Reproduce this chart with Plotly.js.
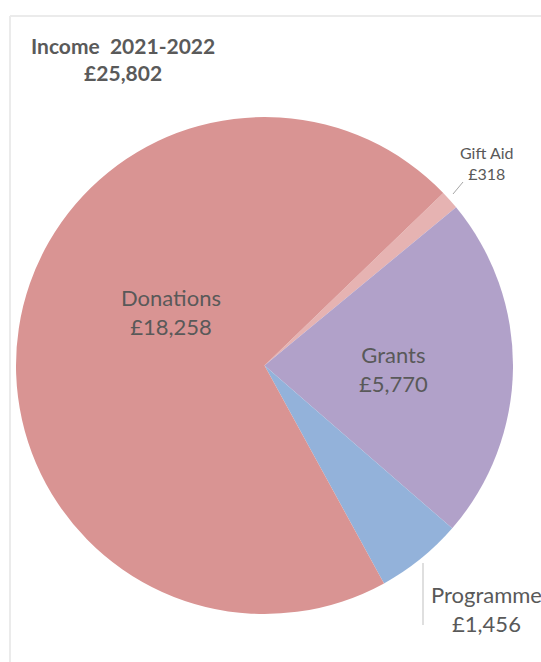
<!DOCTYPE html>
<html>
<head>
<meta charset="utf-8">
<script src="https://cdn.plot.ly/plotly-3.0.1.min.js"></script>
<style>html,body{margin:0;padding:0;background:#fff;}#chart{width:541px;height:662px;}</style>
</head>
<body>
<div id="chart"></div>
<script>
const categories = ["Gift Aid", "Grants", "Programme", "Donations"];
const values = [318, 5770, 1456, 18258];
const colors = ["#E6B3B2", "#B1A1C9", "#93B2DA", "#D99493"];
const titleLine1 = "Income  2021-2022";
const total = values.reduce((a, b) => a + b, 0);

const W = 541, H = 662;
const px = x => x / W;
const py = y => 1 - y / H;
const fmt = v => "£" + v.toLocaleString("en-GB");

// label positions (pixel centres) and sizes
const labelPos = {
  "Gift Aid": {x: 487, y: 163, size: 16},
  "Grants": {x: 393, y: 369, size: 22},
  "Programme": {x: 486, y: 609, size: 22},
  "Donations": {x: 171, y: 312, size: 22}
};

const annotations = categories.map((c, i) => ({
  xref: "paper", yref: "paper",
  x: px(labelPos[c].x), y: py(labelPos[c].y),
  xanchor: "center", yanchor: "middle",
  text: c + "<br>" + fmt(values[i]),
  showarrow: false,
  font: {family: "Lato, 'Open Sans', sans-serif", size: labelPos[c].size, color: "#595959"}
}));

annotations.push({
  xref: "paper", yref: "paper",
  x: px(123), y: py(59), xanchor: "center", yanchor: "middle",
  text: "<b>" + titleLine1 + "</b><br><b>" + fmt(total) + "</b>",
  showarrow: false,
  font: {family: "Lato, 'Open Sans', sans-serif", size: 21, color: "#5a5a5a"}
});

const data = [{
  type: "pie",
  labels: categories,
  values: values,
  sort: false,
  direction: "clockwise",
  rotation: 46,
  marker: {colors: colors, line: {color: "#ffffff", width: 0}},
  textinfo: "none",
  hoverinfo: "none",
  showlegend: false,
  domain: {x: [px(16), px(513)], y: [py(614), py(117)]}
}];

const layout = {
  width: W, height: H,
  margin: {l: 0, r: 0, t: 0, b: 0},
  paper_bgcolor: "#ffffff",
  showlegend: false,
  annotations: annotations,
  shapes: [
    {type: "line", xref: "paper", yref: "paper", x0: px(10), x1: 1.01, y0: py(16), y1: py(16), line: {color: "#ebebeb", width: 2}},
    {type: "line", xref: "paper", yref: "paper", x0: px(10), x1: px(10), y0: py(16), y1: -0.01, line: {color: "#ebebeb", width: 2}},
    {type: "line", xref: "paper", yref: "paper", x0: px(453), x1: px(463), y0: py(194), y1: py(182), line: {color: "#a6a6a6", width: 1}},
    {type: "line", xref: "paper", yref: "paper", x0: px(423), x1: px(423), y0: py(563), y1: py(625), line: {color: "#bfbfbf", width: 1}}
  ]
};

Plotly.newPlot("chart", data, layout, {staticPlot: true, displayModeBar: false});
</script>
</body>
</html>
